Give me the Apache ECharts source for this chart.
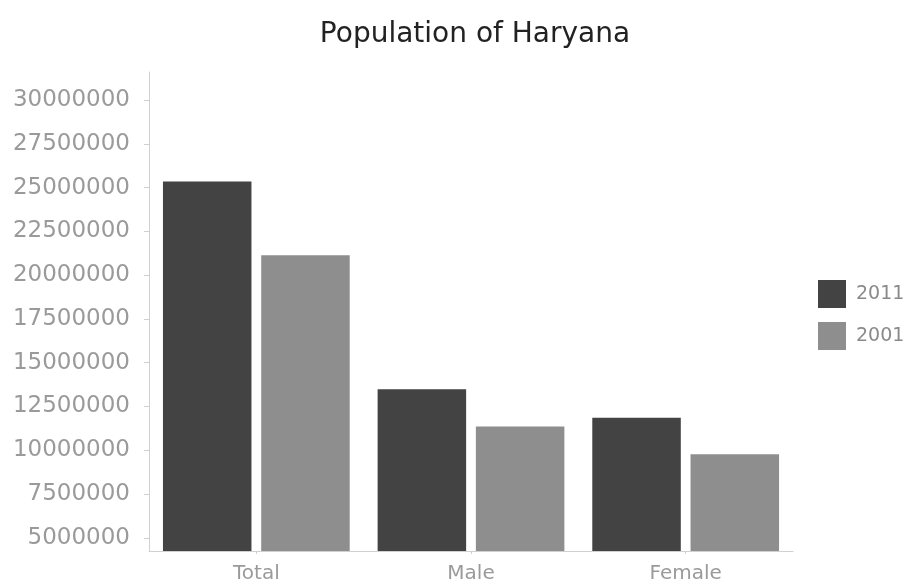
<!DOCTYPE html>
<html>
<head>
<meta charset="utf-8">
<script src="https://cdn.jsdelivr.net/npm/echarts@6/dist/echarts.min.js"></script>
<style>
  html, body { margin: 0; padding: 0; background: #fff; }
  #main-chart { width: 910px; height: 584px; }
</style>
</head>
<body>
<div id="main-chart"></div>
<script>
// data
const categories = ['Total', 'Male', 'Female'];
const years = ['2011', '2001'];
const pop2011 = [25350000, 13490000, 11860000];
const pop2001 = [21140000, 11360000, 9780000];
const yTicks = [5000000, 7500000, 10000000, 12500000, 15000000, 17500000,
                20000000, 22500000, 25000000, 27500000, 30000000];

let chartDom = document.getElementById('main-chart');
let myChart = echarts.init(chartDom);

const labelFont = { fontFamily: 'DejaVu Sans', color: '#9a9a9a' };

let option = {
    backgroundColor: '#fff',
    animation: false,
    title: {
        text: 'Population of Haryana',
        left: 470,
        top: 16,
        textAlign: 'center',
        textStyle: { fontFamily: 'DejaVu Sans', fontSize: 28, fontWeight: 'normal', color: '#222' }
    },
    legend: {
        data: years,
        orient: 'vertical',
        left: 813,
        top: 275,
        itemWidth: 28,
        itemHeight: 28,
        itemGap: 14,
        icon: 'rect',
        textStyle: { ...labelFont, fontSize: 19, color: '#8a8a8a', padding: [0, 0, 0, 5] }
    },
    grid: { left: 149, right: 117, top: 72, bottom: 32 },
    xAxis: {
        type: 'category',
        data: categories,
        axisLine: { lineStyle: { color: '#d0d0d0' } },
        axisTick: { show: true, alignWithLabel: true, length: 3, lineStyle: { color: '#d0d0d0' } },
        axisLabel: { ...labelFont, fontSize: 20, margin: 13 }
    },
    yAxis: {
        type: 'value',
        min: 4250000,
        max: 31600000,
        splitLine: { show: false },
        axisLine: { show: true, lineStyle: { color: '#d0d0d0' } },
        axisTick: { show: true, length: 5, customValues: yTicks, lineStyle: { color: '#d0d0d0' } },
        axisLabel: { ...labelFont, fontSize: 23, margin: 19, customValues: yTicks, formatter: v => String(v) }
    },
    series: [
        {
            name: years[0],
            type: 'bar',
            data: pop2011,
            barCategoryGap: '13%',
            barGap: '11%',
            itemStyle: { color: '#434343' }
        },
        {
            name: years[1],
            type: 'bar',
            data: pop2001,
            barCategoryGap: '13%',
            barGap: '11%',
            itemStyle: { color: '#8e8e8e' }
        }
    ]
};

myChart.setOption(option);
</script>
</body>
</html>
